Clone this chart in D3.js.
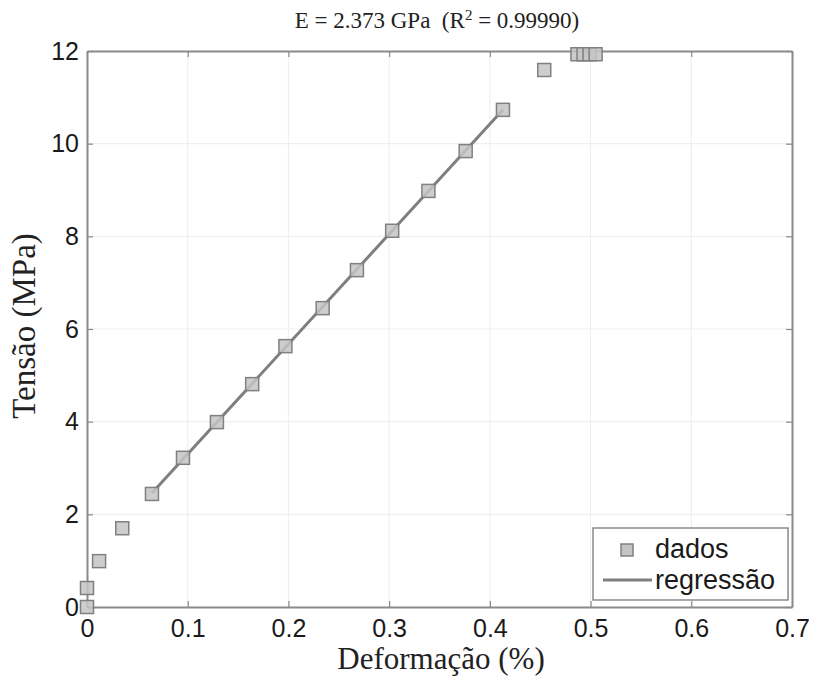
<!DOCTYPE html>
<html>
<head>
<meta charset="utf-8">
<script src="https://cdn.jsdelivr.net/npm/d3@7"></script>
<style>
  html, body { margin: 0; padding: 0; background: #fff; }
  svg { display: block; }
</style>
</head>
<body>
<svg id="chart" width="818" height="679"></svg>
<script>
// Ensaio de tração: deformação (%) x tensão (MPa)
const strain = [0, 0, 0.012, 0.035, 0.0645, 0.0953, 0.129, 0.164, 0.197, 0.234, 0.268,
                0.303, 0.339, 0.376, 0.413, 0.454, 0.487, 0.493, 0.499, 0.505];
const stress = [0, 0.41, 0.99, 1.70, 2.44, 3.22, 3.99, 4.81, 5.63, 6.45, 7.27,
                8.12, 8.98, 9.84, 10.73, 11.59, 11.93, 11.93, 11.93, 11.93];

// Reta de regressão na região linear (E = 2.373 GPa)
const regStrain = [0.0645, 0.413];
const regStress = [2.46, 10.73];

const xTicks = [0, 0.1, 0.2, 0.3, 0.4, 0.5, 0.6, 0.7];
const yTicks = [0, 2, 4, 6, 8, 10, 12];

const svg = d3.select("#chart");
const plotL = 87, plotR = 792, plotT = 51, plotB = 607;

const x = d3.scaleLinear().domain([0, 0.7]).range([plotL, plotR]);
const y = d3.scaleLinear().domain([0, 12]).range([plotB, plotT]);

const axisColor = "#8a8a8a";

// grade
const grid = svg.append("g");
grid.selectAll("line.gx").data(xTicks.slice(1, -1)).join("line")
  .attr("x1", d => x(d)).attr("x2", d => x(d))
  .attr("y1", plotT).attr("y2", plotB)
  .attr("stroke", "#efefef").attr("stroke-width", 1.2);
grid.selectAll("line.gy").data(yTicks.slice(1, -1)).join("line")
  .attr("x1", plotL).attr("x2", plotR)
  .attr("y1", d => y(d)).attr("y2", d => y(d))
  .attr("stroke", "#efefef").attr("stroke-width", 1.2);

// eixos (caixa com marcas internas)
const tickFmt = d3.format("~g");
const axB = svg.append("g").attr("transform", `translate(0,${plotB})`)
  .call(d3.axisBottom(x).tickValues(xTicks).tickFormat(tickFmt).tickSizeInner(-6).tickSizeOuter(0).tickPadding(12));
const axT = svg.append("g").attr("transform", `translate(0,${plotT})`)
  .call(d3.axisTop(x).tickValues(xTicks).tickFormat("").tickSizeInner(-6).tickSizeOuter(0));
const axL = svg.append("g").attr("transform", `translate(${plotL},0)`)
  .call(d3.axisLeft(y).tickValues(yTicks).tickFormat(tickFmt).tickSizeInner(-6).tickSizeOuter(0).tickPadding(8));
const axR = svg.append("g").attr("transform", `translate(${plotR},0)`)
  .call(d3.axisRight(y).tickValues(yTicks).tickFormat("").tickSizeInner(-6).tickSizeOuter(0));

[axB, axT, axL, axR].forEach(g => {
  g.select(".domain").attr("stroke", axisColor).attr("stroke-width", 2);
  g.selectAll(".tick line").attr("stroke", axisColor).attr("stroke-width", 1.2);
  g.selectAll(".tick text").attr("fill", "#1a1a1a")
    .attr("font-family", "'Liberation Sans', Arial, sans-serif").attr("font-size", 25);
});
axB.selectAll(".tick text").attr("dy", "0.71em");

// regressão
svg.append("path")
  .datum(regStrain.map((s, i) => [s, regStress[i]]))
  .attr("d", d3.line().x(d => x(d[0])).y(d => y(d[1])))
  .attr("fill", "none").attr("stroke", "#7f7f7f").attr("stroke-width", 3);

// dados
const ms = 13;
svg.append("g").selectAll("rect").data(strain.map((s, i) => [s, stress[i]])).join("rect")
  .attr("x", d => x(d[0]) - ms / 2).attr("y", d => y(d[1]) - ms / 2)
  .attr("width", ms).attr("height", ms)
  .attr("fill", "#c4c4c4").attr("fill-opacity", 0.85)
  .attr("stroke", "#808080").attr("stroke-width", 1.5);

// título
const title = svg.append("text")
  .attr("x", 437).attr("y", 28)
  .attr("text-anchor", "middle")
  .style("white-space", "pre")
  .attr("font-family", "'Liberation Serif', 'Times New Roman', serif")
  .attr("font-size", 23).attr("fill", "#222");
title.append("tspan").text("E = 2.373 GPa  (R");
title.append("tspan").attr("baseline-shift", "super").attr("font-size", 15).text("2");
title.append("tspan").text(" = 0.99990)");

// rótulos dos eixos
svg.append("text")
  .attr("x", 441).attr("y", 669)
  .attr("text-anchor", "middle")
  .attr("font-family", "'Liberation Serif', 'Times New Roman', serif")
  .attr("font-size", 31).attr("fill", "#222")
  .text("Deformação (%)");
svg.append("text")
  .attr("transform", `translate(35,${(plotT + plotB) / 2 - 3}) rotate(-90)`)
  .attr("text-anchor", "middle")
  .attr("font-family", "'Liberation Serif', 'Times New Roman', serif")
  .attr("font-size", 33).attr("fill", "#222")
  .text("Tensão (MPa)");

// legenda
const lg = svg.append("g");
lg.append("rect").attr("x", 593).attr("y", 528).attr("width", 195).attr("height", 72)
  .attr("fill", "#fff").attr("stroke", axisColor).attr("stroke-width", 1.5);
lg.append("rect").attr("x", 627 - 6).attr("y", 550 - 6).attr("width", 12).attr("height", 12)
  .attr("fill", "#c4c4c4").attr("stroke", "#808080").attr("stroke-width", 1.5);
lg.append("line").attr("x1", 603).attr("x2", 652).attr("y1", 580).attr("y2", 580)
  .attr("stroke", "#7f7f7f").attr("stroke-width", 3);
const legendFont = "'Liberation Sans', Arial, sans-serif";
lg.append("text").attr("x", 655).attr("y", 558).attr("font-family", legendFont)
  .attr("font-size", 27).attr("fill", "#1a1a1a").text("dados");
lg.append("text").attr("x", 655).attr("y", 589).attr("font-family", legendFont)
  .attr("font-size", 27).attr("fill", "#1a1a1a").text("regressão");
</script>
</body>
</html>
